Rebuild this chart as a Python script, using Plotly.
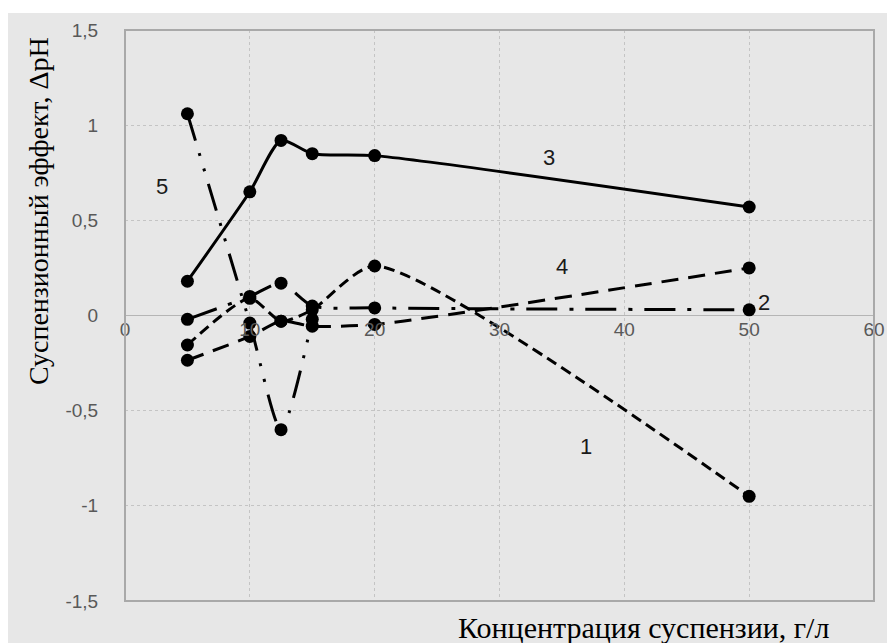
import plotly.graph_objects as go

# Concentration of suspension, g/L
conc = [5, 10, 12.5, 15, 20, 50]
conc_5 = [5, 10, 12.5, 15]

# Suspension effect ΔpH for each sample series
ph_1 = [-0.155, 0.09, -0.03, 0.03, 0.26, -0.95]
ph_2 = [-0.02, 0.10, 0.17, 0.05, 0.04, 0.03]
ph_3 = [0.18, 0.65, 0.92, 0.85, 0.84, 0.57]
ph_4 = [-0.235, -0.11, -0.03, -0.056, -0.047, 0.25]
ph_5 = [1.06, -0.04, -0.60, -0.02]

# Curve labels and where they sit
curve_names = ["1", "2", "3", "4", "5"]
label_x = [36.9, 51.2, 34.0, 35.0, 3.0]
label_y = [-0.69, 0.07, 0.83, 0.26, 0.68]

y_tick_vals = [-1.5, -1, -0.5, 0, 0.5, 1, 1.5]
y_tick_text = ["-1,5", "-1", "-0,5", "0", "0,5", "1", "1,5"]
x_tick_vals = [0, 10, 20, 30, 40, 50, 60]
x_tick_text = ["0", "10", "20", "30", "40", "50", "60"]

W, H = 887, 643
ML, MR, MT, MB = 125, 13, 30, 42
PW, PH = W - ML - MR, H - MT - MB


def fx(px):
    return (px - ML) / PW


def fy(py):
    return (H - MB - py) / PH


series = [
    (conc, ph_1, "11px,6px"),
    (conc, ph_2, "31px,12px,4px,12px"),
    (conc, ph_3, "solid"),
    (conc, ph_4, "17px,10px"),
    (conc_5, ph_5, "28px,13px,3px,13px,3px,13px"),
]

fig = go.Figure()
for xs, ys, dash in series:
    fig.add_trace(go.Scatter(
        x=xs, y=ys, mode="lines+markers",
        line=dict(color="black", width=3, dash=dash, shape="spline", smoothing=0.65),
        marker=dict(color="black", size=13),
        showlegend=False, hoverinfo="skip",
    ))

annotations = []
for name, lx, ly in zip(curve_names, label_x, label_y):
    annotations.append(dict(
        x=lx, y=ly, xref="x", yref="y", text=name, showarrow=False,
        font=dict(family="Liberation Sans, Arial, sans-serif", size=22, color="#1a1a1a"),
    ))

serif = "Liberation Serif, Times New Roman, serif"
annotations.append(dict(
    x=fx(643), y=fy(627), xref="paper", yref="paper",
    text="Концентрация суспензии, г/л", showarrow=False,
    xanchor="center", yanchor="middle",
    font=dict(family=serif, size=30, color="black"),
))
annotations.append(dict(
    x=fx(38), y=fy(211), xref="paper", yref="paper",
    text="Суспензионный эффект, ΔpH", showarrow=False, textangle=-90,
    xanchor="center", yanchor="middle",
    font=dict(family=serif, size=28, color="black"),
))

shapes = [
    # white strips along the top and left edges of the canvas
    dict(type="rect", xref="paper", yref="paper", layer="below",
         x0=fx(0), x1=fx(8), y0=fy(H), y1=fy(0),
         fillcolor="white", line=dict(width=0)),
    dict(type="rect", xref="paper", yref="paper", layer="below",
         x0=fx(0), x1=fx(W), y0=fy(13), y1=fy(0),
         fillcolor="white", line=dict(width=0)),
    # plot-area frame
    dict(type="rect", xref="paper", yref="paper", layer="above",
         x0=0, x1=1, y0=0, y1=1,
         line=dict(color="#a9a9a9", width=2)),
]

tick_font = dict(family="Liberation Sans, Arial, sans-serif", size=19, color="#595959")

fig.update_layout(
    width=W, height=H,
    margin=dict(l=ML, r=MR, t=MT, b=MB, pad=0, autoexpand=False),
    paper_bgcolor="#e7e7e7", plot_bgcolor="#e7e7e7",
    annotations=annotations, shapes=shapes,
    xaxis=dict(
        range=[0, 60], tickvals=x_tick_vals, ticktext=x_tick_text,
        showgrid=True, gridcolor="#c4c4c4", gridwidth=1, griddash="dot",
        zeroline=False, showline=False, ticks="", automargin=False,
        anchor="free", position=0.5, tickfont=tick_font,
    ),
    yaxis=dict(
        range=[-1.5, 1.5], tickvals=y_tick_vals, ticktext=y_tick_text,
        showgrid=True, gridcolor="#c4c4c4", gridwidth=1, griddash="dot",
        zeroline=True, zerolinecolor="#b5b5b5", zerolinewidth=1,
        showline=False, ticks="outside", ticklen=22, tickcolor="rgba(0,0,0,0)",
        tickfont=tick_font, automargin=False,
    ),
)

fig.write_html("out.html")
